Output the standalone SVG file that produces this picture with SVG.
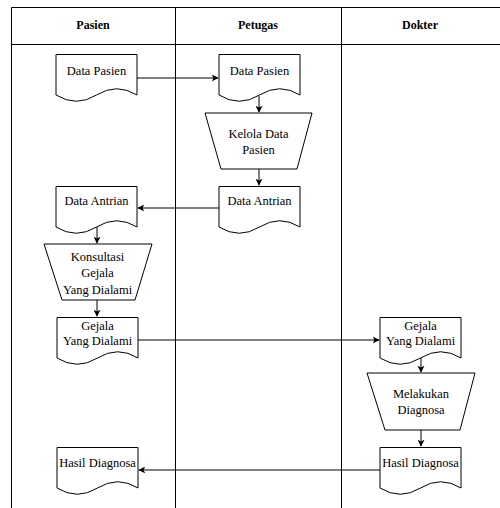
<svg xmlns="http://www.w3.org/2000/svg" width="500" height="508" viewBox="0 0 500 508">
<defs>
<style>
.lane{fill:none;stroke:#000;stroke-width:1}
.shape{fill:#fff;stroke:#000;stroke-width:1}
.t{font-size:12.5px;fill:#000;text-anchor:middle}
.h{font-size:12px;font-weight:bold;fill:#000;text-anchor:middle}
.c{fill:none;stroke:#000;stroke-width:1}
</style>
<marker id="arr" viewBox="0 0 10 10" refX="9" refY="5" markerWidth="7" markerHeight="7" markerUnits="userSpaceOnUse" orient="auto">
<path d="M0,0 L10,5 L0,10 L2.5,5 Z" fill="#000"/>
</marker>
</defs>
<rect width="500" height="508" fill="#fff"/>
<g font-family="Liberation Serif, DejaVu Serif, serif">
<g id="lanes">
<path class="lane" d="M11.5,508 V7.5 H500"/>
<path class="lane" d="M11.5,44.5 H500"/>
<path class="lane" d="M175.5,7.5 V508"/>
<path class="lane" d="M341.5,7.5 V508"/>
<text class="h" x="93" y="29">Pasien</text>
<text class="h" x="258" y="29">Petugas</text>
<text class="h" x="420" y="29">Dokter</text>
</g>
<g id="connectors">
<path class="c" d="M137,78 H218" marker-end="url(#arr)"/>
<path class="c" d="M259,96 V112" marker-end="url(#arr)"/>
<path class="c" d="M259,169 V185" marker-end="url(#arr)"/>
<path class="c" d="M219,208 H138" marker-end="url(#arr)"/>
<path class="c" d="M97,227 V243" marker-end="url(#arr)"/>
<path class="c" d="M97,300 V316" marker-end="url(#arr)"/>
<path class="c" d="M138,340 H379" marker-end="url(#arr)"/>
<path class="c" d="M421,357 V372" marker-end="url(#arr)"/>
<path class="c" d="M421,430 V446" marker-end="url(#arr)"/>
<path class="c" d="M380,470 H139" marker-end="url(#arr)"/>
</g>
<g id="pasien-data-pasien">
<path class="shape" d="M56,54.5 H137 V95 Q116.75,82.5 96.5,95 Q76.25,107.5 56,95 Z"/>
<text class="t" x="96.5" y="75">Data Pasien</text>
</g>
<g id="petugas-data-pasien">
<path class="shape" d="M219,54.5 H300 V95 Q279.75,82.5 259.5,95 Q239.25,107.5 219,95 Z"/>
<text class="t" x="259.5" y="75">Data Pasien</text>
</g>
<g id="kelola-data-pasien">
<path class="shape" d="M205,113 H312 L297,169 H221 Z"/>
<text class="t" x="258.5" y="138">Kelola Data</text>
<text class="t" x="258.5" y="154">Pasien</text>
</g>
<g id="petugas-data-antrian">
<path class="shape" d="M219,186.5 H300 V227 Q279.75,214.5 259.5,227 Q239.25,239.5 219,227 Z"/>
<text class="t" x="259.5" y="205">Data Antrian</text>
</g>
<g id="pasien-data-antrian">
<path class="shape" d="M56,186.5 H137 V227 Q116.75,214.5 96.5,227 Q76.25,239.5 56,227 Z"/>
<text class="t" x="96.5" y="205">Data Antrian</text>
</g>
<g id="konsultasi">
<path class="shape" d="M44,244 H152 L135,300 H62 Z"/>
<text class="t" x="97.5" y="261">Konsultasi</text>
<text class="t" x="97.5" y="277">Gejala</text>
<text class="t" x="97.5" y="294">Yang Dialami</text>
</g>
<g id="pasien-gejala">
<path class="shape" d="M57,317.5 H138 V358 Q117.75,345.5 97.5,358 Q77.25,370.5 57,358 Z"/>
<text class="t" x="97.5" y="330">Gejala</text>
<text class="t" x="97.5" y="345">Yang Dialami</text>
</g>
<g id="dokter-gejala">
<path class="shape" d="M380,317.5 H461 V358 Q440.75,345.5 420.5,358 Q400.25,370.5 380,358 Z"/>
<text class="t" x="420.5" y="330">Gejala</text>
<text class="t" x="420.5" y="345">Yang Dialami</text>
</g>
<g id="melakukan-diagnosa">
<path class="shape" d="M367,373 H475 L460,430 H385 Z"/>
<text class="t" x="421" y="398">Melakukan</text>
<text class="t" x="421" y="414">Diagnosa</text>
</g>
<g id="dokter-hasil">
<path class="shape" d="M380,447.5 H461 V488 Q440.75,475.5 420.5,488 Q400.25,500.5 380,488 Z"/>
<text class="t" x="420.5" y="467">Hasil Diagnosa</text>
</g>
<g id="pasien-hasil">
<path class="shape" d="M57,447.5 H138 V488 Q117.75,475.5 97.5,488 Q77.25,500.5 57,488 Z"/>
<text class="t" x="97.5" y="467">Hasil Diagnosa</text>
</g>
</g>
</svg>
